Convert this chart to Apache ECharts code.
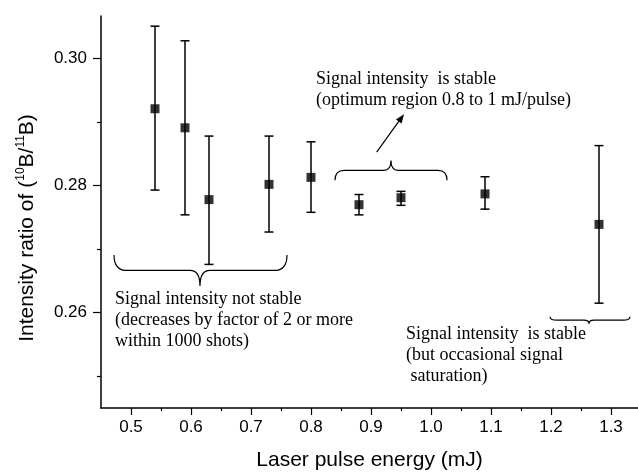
<!DOCTYPE html>
<html><head><meta charset="utf-8">
<script src="https://cdn.jsdelivr.net/npm/echarts@6/dist/echarts.min.js"></script>
<style>html,body{margin:0;padding:0;background:#fff}#c{width:638px;height:476px}</style>
</head><body><div id="c"></div>
<script>
// ---- data ----
const energy  = [0.54, 0.59, 0.63, 0.73, 0.80, 0.88, 0.95, 1.09, 1.28];
const ratio   = [0.2921, 0.2891, 0.2778, 0.2802, 0.2813, 0.2770, 0.2781, 0.2787, 0.2739];
const errLow  = [0.2793, 0.2754, 0.2676, 0.2727, 0.2758, 0.2754, 0.2769, 0.2763, 0.2615];
const errHigh = [0.3051, 0.3028, 0.2878, 0.2878, 0.2869, 0.2786, 0.2791, 0.2814, 0.2863];

const xTickLabels = [0.5, 0.6, 0.7, 0.8, 0.9, 1.0, 1.1, 1.2, 1.3];
const xMinorTicks = [0.55, 0.65, 0.75, 0.85, 0.95, 1.05, 1.15, 1.25];
const yTickLabels = [0.26, 0.28, 0.30];
const yMinorTicks = [0.25, 0.27, 0.29];

// annotation texts
const noteA = ['Signal intensity not stable', '(decreases by factor of 2 or more', 'within 1000 shots)'];
const noteB = ['Signal intensity  is stable', '(optimum region 0.8 to 1 mJ/pulse)'];
const noteC = ['Signal intensity  is stable', '(but occasional signal', ' saturation)'];

const X_MIN = 0.45, X_MAX = 1.345, Y_MIN = 0.245, Y_MAX = 0.3067;

const chart = echarts.init(document.getElementById('c'), null, {renderer: 'canvas'});

const axisCommonY = {
  type: 'value', min: Y_MIN, max: Y_MAX, position: 'left',
  splitLine: {show: false}
};
const axisCommonX = {
  type: 'value', min: X_MIN, max: X_MAX, position: 'bottom',
  splitLine: {show: false}
};

function brace(api, x0, x1, xt, yEnd, yTip, r, rt) {
  const a = api.coord([x0, yEnd]), b = api.coord([x1, yEnd]), t = api.coord([xt, yTip]);
  const ye = a[1], yt = t[1], ym = (ye + yt) / 2;
  const d = 'M' + a[0] + ' ' + ye +
    ' Q' + a[0] + ' ' + ym + ' ' + (a[0] + r) + ' ' + ym +
    ' L' + (t[0] - rt) + ' ' + ym +
    ' Q' + t[0] + ' ' + ym + ' ' + t[0] + ' ' + yt +
    ' Q' + t[0] + ' ' + ym + ' ' + (t[0] + rt) + ' ' + ym +
    ' L' + (b[0] - r) + ' ' + ym +
    ' Q' + b[0] + ' ' + ym + ' ' + b[0] + ' ' + ye;
  return {type: 'path', shape: {pathData: d}, style: {stroke: '#000', lineWidth: 1.2, fill: null}};
}
function note(api, x, y, lines) {
  const p = api.coord([x, y]);
  return {type: 'text', x: p[0], y: p[1], style: {
    text: lines.join('\n'), fill: '#000', fontFamily: 'Liberation Serif', fontSize: 18,
    lineHeight: 21, align: 'left', verticalAlign: 'top'}};
}

const option = {
  animation: false,
  backgroundColor: '#fff',
  grid: {left: 101, right: 0, top: 16, bottom: 65, containLabel: false},
  xAxis: [
    Object.assign({}, axisCommonX, {
      axisLine: {show: true, onZero: false, lineStyle: {color: '#000', width: 1.5}},
      axisTick: {show: true, length: 7, customValues: xTickLabels, lineStyle: {color: '#000', width: 1.2}},
      axisLabel: {show: true, customValues: xTickLabels, margin: 11, color: '#000',
        fontFamily: 'Liberation Sans', fontSize: 17, formatter: v => v.toFixed(1)},
      name: 'Laser pulse energy (mJ)', nameLocation: 'middle', nameGap: 42,
      nameTextStyle: {color: '#000', fontFamily: 'Liberation Sans', fontSize: 21}
    }),
    Object.assign({}, axisCommonX, {
      axisLine: {show: false},
      axisTick: {show: true, length: 3, customValues: xMinorTicks, lineStyle: {color: '#000', width: 1.2}},
      axisLabel: {show: false}
    })
  ],
  yAxis: [
    Object.assign({}, axisCommonY, {
      axisLine: {show: true, onZero: false, lineStyle: {color: '#000', width: 1.5}},
      axisTick: {show: true, length: 8, customValues: yTickLabels, lineStyle: {color: '#000', width: 1.2}},
      axisLabel: {show: true, customValues: yTickLabels, margin: 14, color: '#000',
        fontFamily: 'Liberation Sans', fontSize: 17, formatter: v => v.toFixed(2)}
    }),
    Object.assign({}, axisCommonY, {
      axisLine: {show: false},
      axisTick: {show: true, length: 4, customValues: yMinorTicks, lineStyle: {color: '#000', width: 1.2}},
      axisLabel: {show: false}
    })
  ],
  graphic: [{
    type: 'text', x: 27, y: 228, rotation: Math.PI / 2,
    style: {
      text: 'Intensity ratio of ({s|10}B/{s|11}B)',
      fill: '#000', fontFamily: 'Liberation Sans', fontSize: 21, lineHeight: 24,
      align: 'center', verticalAlign: 'middle',
      rich: {s: {fontSize: 12, lineHeight: 12, verticalAlign: 'top', fontFamily: 'Liberation Sans', fill: '#000'}}
    }
  }],
  series: [
    {
      type: 'custom', name: 'error', xAxisIndex: 0, yAxisIndex: 0,
      data: energy.map((x, i) => [x, errLow[i], errHigh[i]]),
      renderItem: function (params, api) {
        const lo = api.coord([api.value(0), api.value(1)]);
        const hi = api.coord([api.value(0), api.value(2)]);
        const w = 4.5;
        const st = {stroke: '#000', lineWidth: 1.5};
        return {type: 'group', children: [
          {type: 'line', shape: {x1: lo[0], y1: lo[1], x2: hi[0], y2: hi[1]}, style: st},
          {type: 'line', shape: {x1: lo[0] - w, y1: lo[1], x2: lo[0] + w, y2: lo[1]}, style: st},
          {type: 'line', shape: {x1: hi[0] - w, y1: hi[1], x2: hi[0] + w, y2: hi[1]}, style: st}
        ]};
      },
      z: 2
    },
    {
      type: 'scatter', name: 'ratio', xAxisIndex: 0, yAxisIndex: 0,
      data: energy.map((x, i) => [x, ratio[i]]),
      symbol: 'rect', symbolSize: 9, itemStyle: {color: '#000'}, z: 3
    },
    {
      type: 'custom', name: 'notes', xAxisIndex: 0, yAxisIndex: 0,
      data: [[0]], silent: true,
      renderItem: function (params, api) {
        const a0 = api.coord([0.9095, 0.28527]);
        const a1 = api.coord([0.955, 0.29125]);
        const ang = Math.atan2(a1[1] - a0[1], a1[0] - a0[0]);
        const L = 9, W = 3.5;
        const bx = a1[0] - L * Math.cos(ang), by = a1[1] - L * Math.sin(ang);
        const px = -Math.sin(ang) * W, py = Math.cos(ang) * W;
        return {type: 'group', children: [
          brace(api, 0.4717, 0.76, 0.615, 0.2691, 0.2642, 13, 10),
          brace(api, 0.84, 1.0267, 0.9333, 0.28083, 0.28395, 9, 7),
          brace(api, 1.1983, 1.3317, 1.2633, 0.25938, 0.25828, 7, 5),
          {type: 'line', shape: {x1: a0[0], y1: a0[1], x2: bx, y2: by}, style: {stroke: '#000', lineWidth: 1.2}},
          {type: 'polygon', shape: {points: [a1, [bx + px, by + py], [bx - px, by - py]]}, style: {fill: '#000'}},
          note(api, 0.4733, 0.26383, noteA),
          note(api, 0.8083, 0.29836, noteB),
          note(api, 0.9583, 0.2582, noteC)
        ]};
      },
      z: 4
    }
  ]
};
chart.setOption(option);
</script>
</body></html>
